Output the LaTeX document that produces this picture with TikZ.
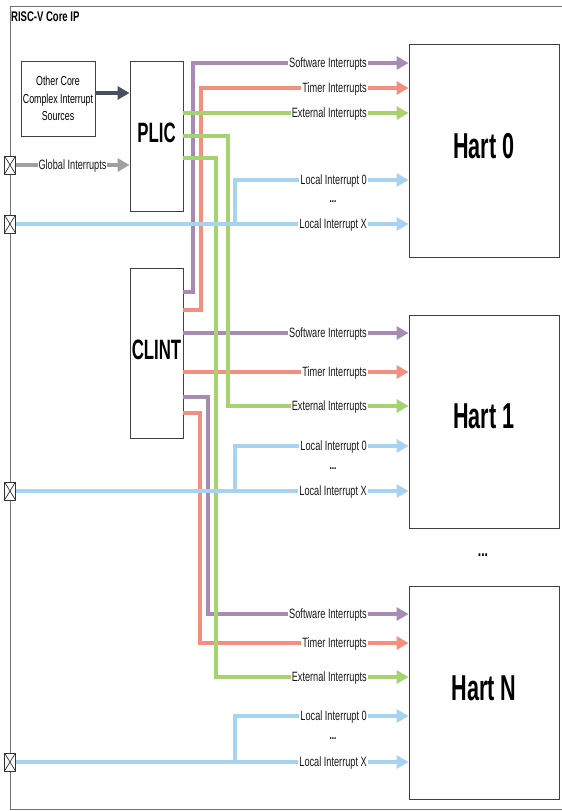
\documentclass[tikz,border=0pt]{standalone}
\usepackage{fontspec}
\setmainfont{Liberation Sans}[FakeStretch=0.68]
\newfontfamily\hfont{Liberation Sans}[FakeStretch=0.6]
\usetikzlibrary{arrows.meta}

\definecolor{purp}{RGB}{167,139,180}
\definecolor{sal}{RGB}{242,143,126}
\definecolor{grn}{RGB}{166,211,112}
\definecolor{blu}{RGB}{167,210,240}
\definecolor{gry}{RGB}{160,160,160}
\definecolor{dark}{RGB}{70,80,95}

\begin{document}
\begin{tikzpicture}[x=1pt,y=-1pt,>={Triangle[length=12pt,width=13pt]},
  blk/.style={draw=black!75,line width=.9pt,fill=white,inner sep=1pt},
  hart/.style={blk,minimum width=150pt,minimum height=213pt,text depth=10pt,font=\hfont\bfseries\fontsize{36}{36}\selectfont},
  sig/.style={->,line width=4pt},
  lbl/.style={fill=white,inner sep=1pt,text height=9.7pt,text depth=0pt,text=black!90,font=\fontsize{13.5}{13.5}\selectfont},
  port/.style={draw=black!80,fill=white,line width=.7pt,minimum width=11pt,minimum height=18pt,inner sep=0pt,
    path picture={\draw[black!80,line width=.7pt] (path picture bounding box.north west)--(path picture bounding box.south east)
      (path picture bounding box.north east)--(path picture bounding box.south west);}}]
\useasboundingbox (0,0) rectangle (562,811);

% core frame
\draw[black!55,line width=.8pt] (562,6)--(10,6)--(10,809)--(562,809);
\node[anchor=west,inner sep=0pt,font=\bfseries\fontsize{14}{14}\selectfont] (title) at (11,17) {RISC-V Core IP};

\node[blk,minimum width=74pt,minimum height=75pt,align=center,font=\fontsize{13}{17.5}\selectfont] (other) at (58,98.5) {Other Core\\Complex Interrupt\\Sources};
\node[blk,minimum width=53pt,minimum height=150pt,text depth=6pt,font=\hfont\bfseries\fontsize{28}{28}\selectfont] (plic) at (156.5,136) {PLIC};
\node[blk,minimum width=53pt,minimum height=170pt,text depth=6pt,font=\hfont\bfseries\fontsize{28}{28}\selectfont] (clint) at (156.5,353) {CLINT};

\foreach \n/\y in {0/151,1/421.5,N/693}
  \node[hart] (h\n) at (484,\y) {Hart \n};
\node[font=\bfseries\fontsize{18}{18}\selectfont] (hdots) at (483,555) {...};

\foreach \n/\y in {0/165,1/224,2/491,3/762}
  \node[port] (p\n) at (10,\y) {};

% CLINT
\draw[sig,purp] (clint.east|-0,292) -| (193,63) -- (h0.west|-0,63);
\draw[sig,sal] (clint.east|-0,310) -| (201,88) -- (h0.west|-0,88);
\draw[sig,purp] (clint.east|-0,333) -- (h1.west|-0,333);
\draw[sig,sal] (clint.east|-0,372) -- (h1.west|-0,372);
\draw[sig,purp] (clint.east|-0,397) -| (208,614) -- (hN.west|-0,614);
\draw[sig,sal] (clint.east|-0,413) -| (200,643) -- (hN.west|-0,643);

% PLIC
\draw[sig,grn] (plic.east|-0,113) -- (h0.west|-0,113);
\draw[sig,grn] (plic.east|-0,136) -| (228,406) -- (h1.west|-0,406);
\draw[sig,grn] (plic.east|-0,158) -| (216,677) -- (hN.west|-0,677);

\draw[sig,gry] (p0.east) -- (plic.west|-p0);
\draw[sig,dark,line width=3.5pt] (other.east|-0,93) -- (plic.west|-0,93);

% local interrupts
\foreach \p/\h/\a/\b in {1/h0/180/224,2/h1/446/491,3/hN/716/762}{
  \draw[sig,blu] (p\p.east) -- (\h.west|-p\p);
  \draw[sig,blu] (235,\b) |- (\h.west|-0,\a);
  \node[lbl,anchor=east] (l0\p) at (368,\a) {Local Interrupt 0};
  \node[lbl,anchor=east] (lx\p) at (368,\b) {Local Interrupt X};
  \node[font=\bfseries\fontsize{12}{12}\selectfont] (d\p) at (333,{(\a+\b)/2}) {...};
}

\foreach \y/\t in {63/Software,333/Software,614/Software,88/Timer,372/Timer,643/Timer,113/External,406/External,677/External}
  \node[lbl,anchor=east] (s\y) at (368,\y) {\t\ Interrupts};
\node[lbl] (glbl) at (72.5,165) {Global Interrupts};

\end{tikzpicture}
\end{document}
